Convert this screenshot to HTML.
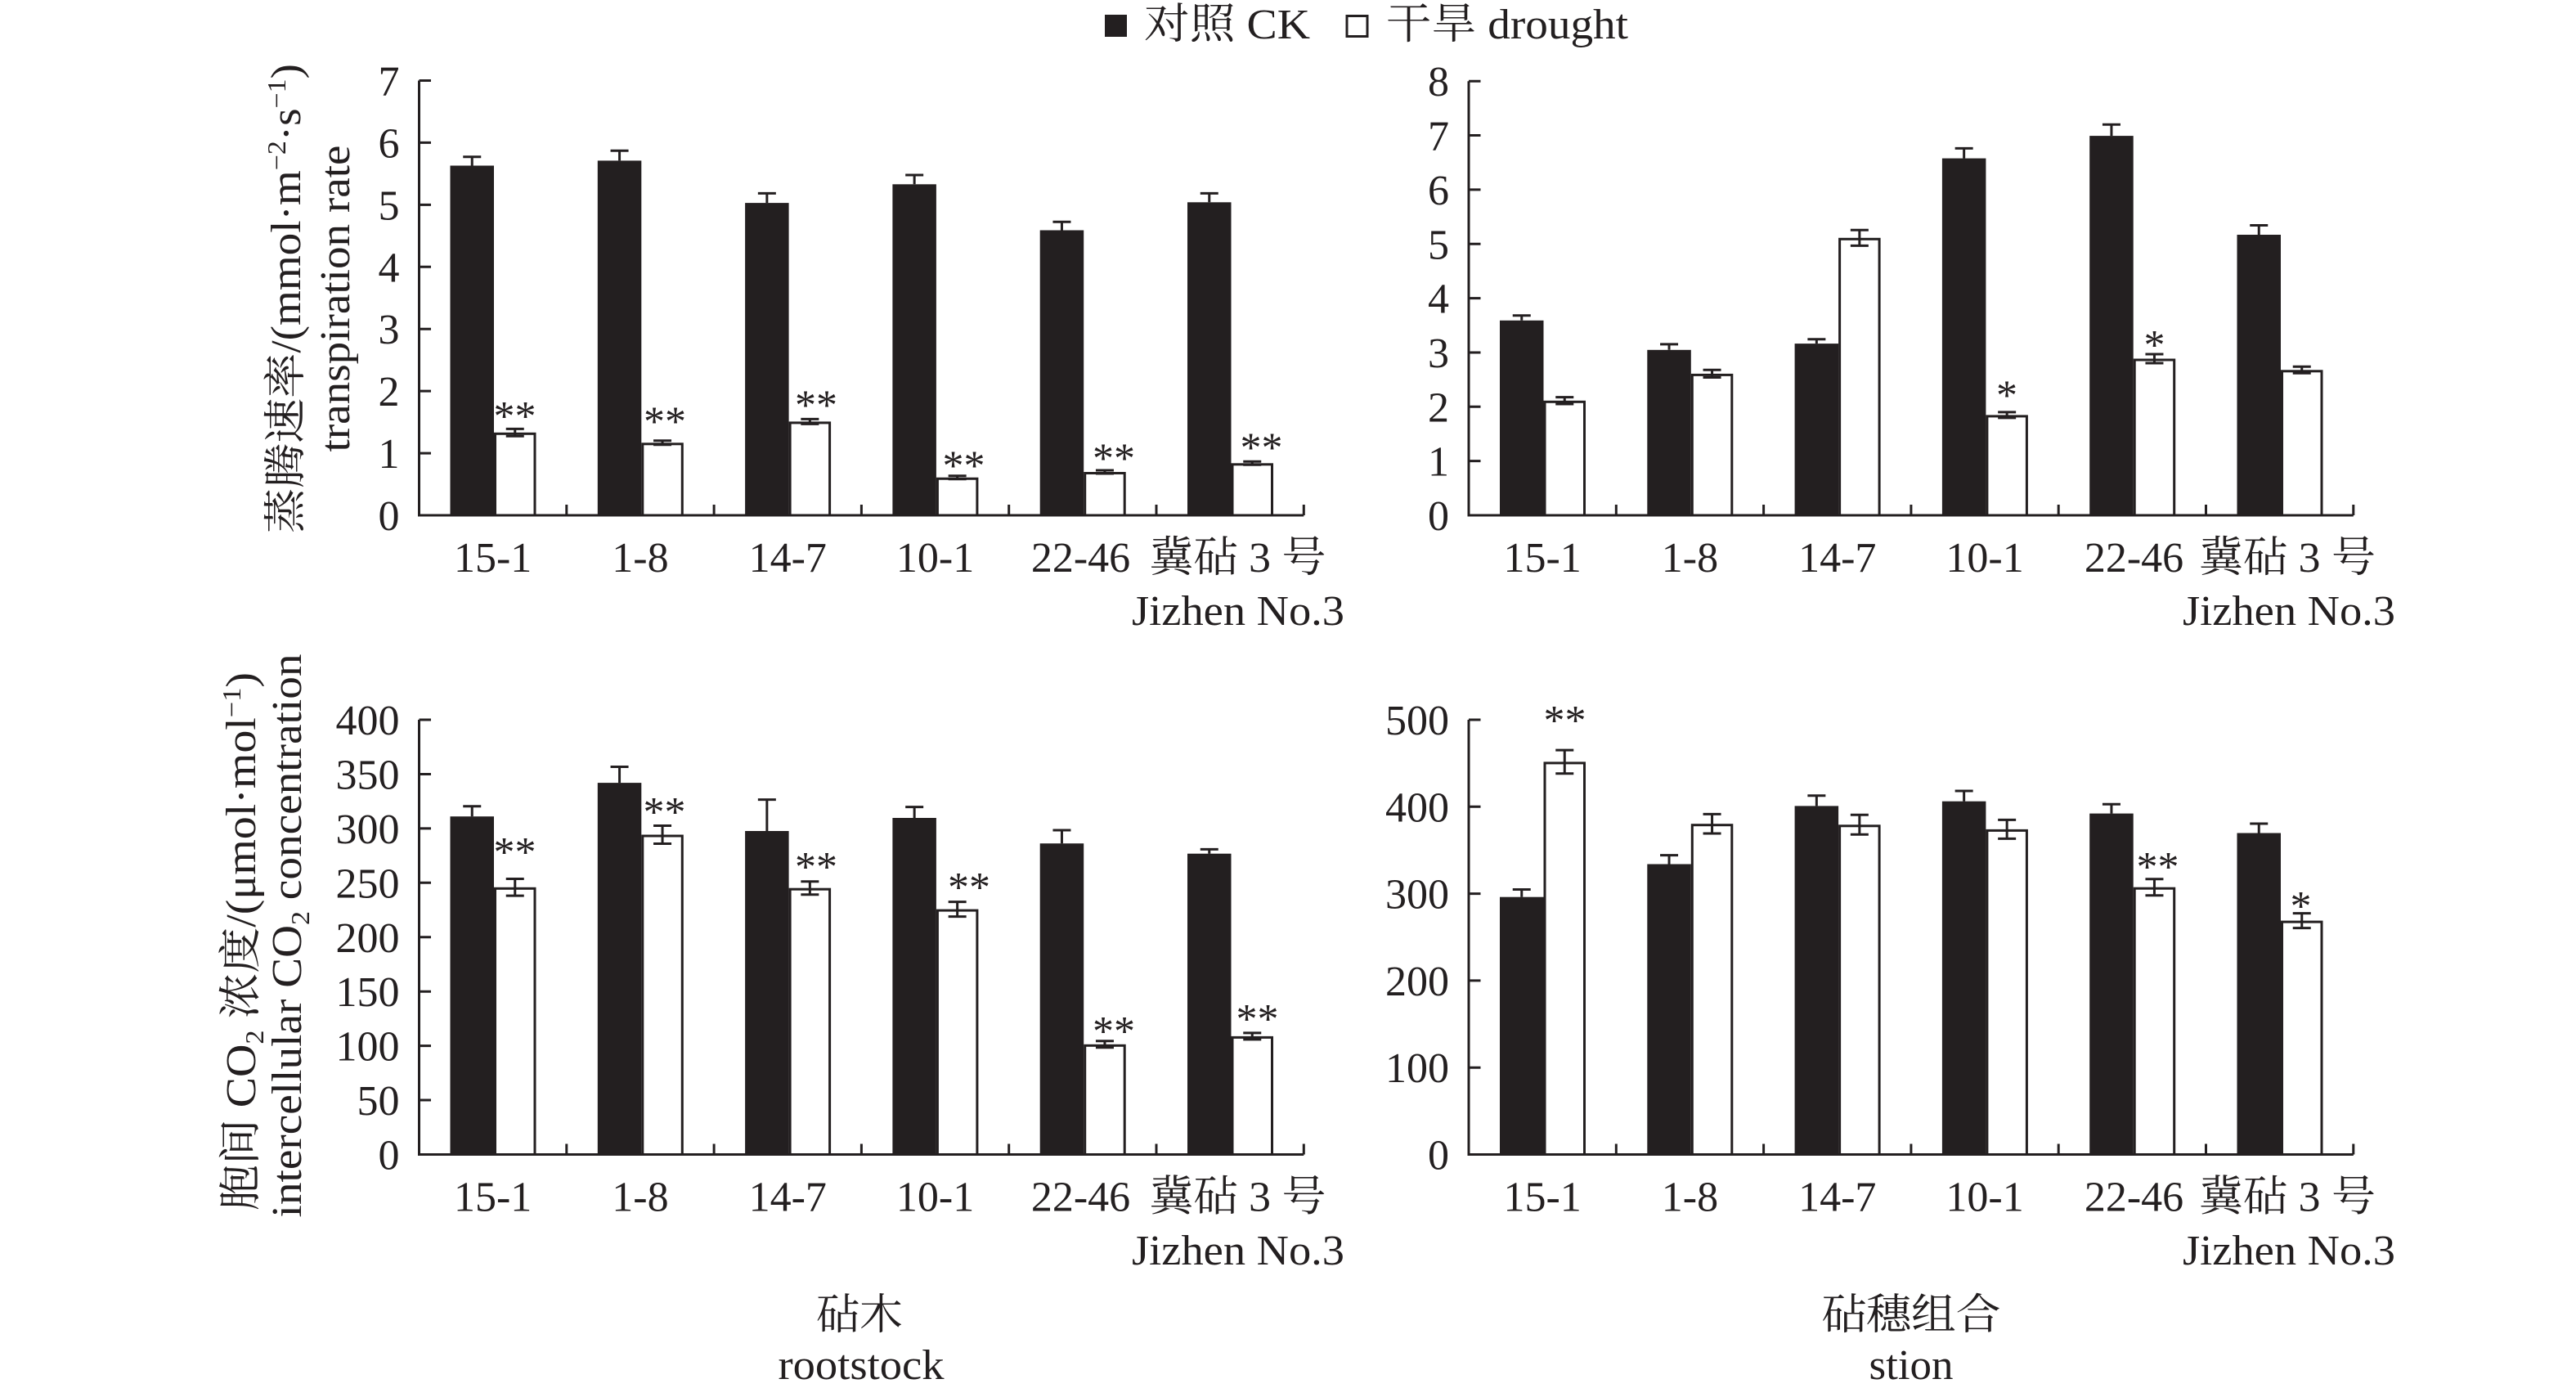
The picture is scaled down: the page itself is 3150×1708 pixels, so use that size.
<!DOCTYPE html>
<html><head><meta charset="utf-8"><style>
html,body{margin:0;padding:0;background:#fff}
svg{display:block}
text{font-family:"Liberation Serif","Noto Serif CJK SC",serif;fill:#231f20}
</style></head><body>
<svg width="3150" height="1708" viewBox="0 0 3150 1708" xmlns="http://www.w3.org/2000/svg">
<rect width="3150" height="1708" fill="#fff"/>

<!-- Legend -->
<rect x="1351" y="18" width="27" height="27" fill="#231f20"/>
<text x="1399" y="47" font-size="52" textLength="203" lengthAdjust="spacingAndGlyphs">对照 CK</text>
<rect x="1647" y="19.5" width="25" height="25" fill="#fff" stroke="#231f20" stroke-width="3"/>
<text x="1695" y="47" font-size="52" textLength="296" lengthAdjust="spacingAndGlyphs">干旱 drought</text>

<!-- ===== Black bars ===== -->
<g fill="#231f20">
<rect x="550.5" y="202.5" width="53.5" height="427.5"/>
<rect x="730.8" y="196.4" width="53.5" height="433.6"/>
<rect x="911.1" y="248.1" width="53.5" height="381.9"/>
<rect x="1091.4" y="225.3" width="53.5" height="404.7"/>
<rect x="1271.7" y="281.5" width="53.5" height="348.5"/>
<rect x="1452" y="247.3" width="53.5" height="382.7"/>
<rect x="1834" y="391.8" width="53.5" height="238.2"/>
<rect x="2014.3" y="427.8" width="53.5" height="202.2"/>
<rect x="2194.6" y="420.1" width="53.5" height="209.9"/>
<rect x="2374.9" y="193.6" width="53.5" height="436.4"/>
<rect x="2555.2" y="166.1" width="53.5" height="463.9"/>
<rect x="2735.5" y="287" width="53.5" height="343"/>
<rect x="550.5" y="998.2" width="53.5" height="413.3"/>
<rect x="730.8" y="957.1" width="53.5" height="454.4"/>
<rect x="911.1" y="1016" width="53.5" height="395.5"/>
<rect x="1091.4" y="1000" width="53.5" height="411.5"/>
<rect x="1271.7" y="1031.2" width="53.5" height="380.3"/>
<rect x="1452" y="1043.7" width="53.5" height="367.8"/>
<rect x="1834" y="1096.7" width="53.5" height="314.8"/>
<rect x="2014.3" y="1056.5" width="53.5" height="355"/>
<rect x="2194.6" y="985.4" width="53.5" height="426.1"/>
<rect x="2374.9" y="979.7" width="53.5" height="431.8"/>
<rect x="2555.2" y="994.6" width="53.5" height="416.9"/>
<rect x="2735.5" y="1018.5" width="53.5" height="393"/>
</g>

<!-- ===== White bars ===== -->
<g fill="#fff" stroke="#231f20" stroke-width="3">
<rect x="605.5" y="530.3" width="48.5" height="99.7"/>
<rect x="785.8" y="542.8" width="48.5" height="87.2"/>
<rect x="966.1" y="516.9" width="48.5" height="113.1"/>
<rect x="1146.4" y="585.25" width="48.5" height="44.75"/>
<rect x="1326.7" y="578.5" width="48.5" height="51.5"/>
<rect x="1507" y="567.8" width="48.5" height="62.2"/>
<rect x="1889" y="491.3" width="48.5" height="138.7"/>
<rect x="2069.3" y="458.4" width="48.5" height="171.6"/>
<rect x="2249.6" y="292.3" width="48.5" height="337.7"/>
<rect x="2429.9" y="508.9" width="48.5" height="121.1"/>
<rect x="2610.2" y="440" width="48.5" height="190"/>
<rect x="2790.5" y="453.8" width="48.5" height="176.2"/>
<rect x="605.5" y="1086.3" width="48.5" height="325.2"/>
<rect x="785.8" y="1022" width="48.5" height="389.5"/>
<rect x="966.1" y="1087.2" width="48.5" height="324.3"/>
<rect x="1146.4" y="1113.1" width="48.5" height="298.4"/>
<rect x="1326.7" y="1278.3" width="48.5" height="133.2"/>
<rect x="1507" y="1268.4" width="48.5" height="143.1"/>
<rect x="1889" y="932.9" width="48.5" height="478.6"/>
<rect x="2069.3" y="1008.7" width="48.5" height="402.8"/>
<rect x="2249.6" y="1009.8" width="48.5" height="401.7"/>
<rect x="2429.9" y="1015.4" width="48.5" height="396.1"/>
<rect x="2610.2" y="1086.2" width="48.5" height="325.3"/>
<rect x="2790.5" y="1127.1" width="48.5" height="284.4"/>
</g>

<!-- ===== Error bars ===== -->
<g fill="none" stroke="#231f20" stroke-width="3">
<path d="M577.25 202.5V191.8M566.25 191.8H588.25"/>
<path d="M757.55 196.4V184.2M746.55 184.2H768.55"/>
<path d="M937.85 248.1V236.4M926.85 236.4H948.85"/>
<path d="M1118.15 225.3V214M1107.15 214H1129.15"/>
<path d="M1298.45 281.5V271.3M1287.45 271.3H1309.45"/>
<path d="M1478.75 247.3V236.4M1467.75 236.4H1489.75"/>
<path d="M629.75 524.4V533.2M618.75 524.4H640.75M618.75 533.2H640.75"/>
<path d="M810.05 538.8V543.8M799.05 538.8H821.05M799.05 543.8H821.05"/>
<path d="M990.35 512.4V518.4M979.35 512.4H1001.35M979.35 518.4H1001.35"/>
<path d="M1170.65 581.75V585.75M1159.65 581.75H1181.65M1159.65 585.75H1181.65"/>
<path d="M1350.95 575V579M1339.95 575H1361.95M1339.95 579H1361.95"/>
<path d="M1531.25 564.3V568.3M1520.25 564.3H1542.25M1520.25 568.3H1542.25"/>
<path d="M1860.75 391.8V385.7M1849.75 385.7H1871.75"/>
<path d="M2041.05 427.8V420.9M2030.05 420.9H2052.05"/>
<path d="M2221.35 420.1V414.8M2210.35 414.8H2232.35"/>
<path d="M2401.65 193.6V181.4M2390.65 181.4H2412.65"/>
<path d="M2581.95 166.1V152.3M2570.95 152.3H2592.95"/>
<path d="M2762.25 287V275.5M2751.25 275.5H2773.25"/>
<path d="M1913.25 485.6V494M1902.25 485.6H1924.25M1902.25 494H1924.25"/>
<path d="M2093.55 452.3V461.5M2082.55 452.3H2104.55M2082.55 461.5H2104.55"/>
<path d="M2273.85 281.2V300.4M2262.85 281.2H2284.85M2262.85 300.4H2284.85"/>
<path d="M2454.15 503.9V510.9M2443.15 503.9H2465.15M2443.15 510.9H2465.15"/>
<path d="M2634.45 433V444M2623.45 433H2645.45M2623.45 444H2645.45"/>
<path d="M2814.75 448.3V456.3M2803.75 448.3H2825.75M2803.75 456.3H2825.75"/>
<path d="M577.25 998.2V985.7M566.25 985.7H588.25"/>
<path d="M757.55 957.1V937.5M746.55 937.5H768.55"/>
<path d="M937.85 1016V977.6M926.85 977.6H948.85"/>
<path d="M1118.15 1000V986.6M1107.15 986.6H1129.15"/>
<path d="M1298.45 1031.2V1015M1287.45 1015H1309.45"/>
<path d="M1478.75 1043.7V1038.4M1467.75 1038.4H1489.75"/>
<path d="M629.75 1074.5V1095.1M618.75 1074.5H640.75M618.75 1095.1H640.75"/>
<path d="M810.05 1009.5V1031.5M799.05 1009.5H821.05M799.05 1031.5H821.05"/>
<path d="M990.35 1077.7V1093.7M979.35 1077.7H1001.35M979.35 1093.7H1001.35"/>
<path d="M1170.65 1102.6V1120.6M1159.65 1102.6H1181.65M1159.65 1120.6H1181.65"/>
<path d="M1350.95 1272.8V1280.8M1339.95 1272.8H1361.95M1339.95 1280.8H1361.95"/>
<path d="M1531.25 1262.9V1270.9M1520.25 1262.9H1542.25M1520.25 1270.9H1542.25"/>
<path d="M1860.75 1096.7V1087.5M1849.75 1087.5H1871.75"/>
<path d="M2041.05 1056.5V1045.6M2030.05 1045.6H2052.05"/>
<path d="M2221.35 985.4V972.7M2210.35 972.7H2232.35"/>
<path d="M2401.65 979.7V967M2390.65 967H2412.65"/>
<path d="M2581.95 994.6V983.3M2570.95 983.3H2592.95"/>
<path d="M2762.25 1018.5V1007M2751.25 1007H2773.25"/>
<path d="M1913.25 917.1V945.7M1902.25 917.1H1924.25M1902.25 945.7H1924.25"/>
<path d="M2093.55 995.4V1019M2082.55 995.4H2104.55M2082.55 1019H2104.55"/>
<path d="M2273.85 996.3V1020.3M2262.85 996.3H2284.85M2262.85 1020.3H2284.85"/>
<path d="M2454.15 1002.4V1025.4M2443.15 1002.4H2465.15M2443.15 1025.4H2465.15"/>
<path d="M2634.45 1074.7V1094.7M2623.45 1074.7H2645.45M2623.45 1094.7H2645.45"/>
<path d="M2814.75 1116.6V1134.6M2803.75 1116.6H2825.75M2803.75 1134.6H2825.75"/>
</g>

<!-- ===== Axes ===== -->
<g fill="none" stroke="#231f20" stroke-width="3">
<path d="M512.5 98.5V631.5M511 630H1594.3"/>
<path d="M512.5 554.07H527M512.5 478.14H527M512.5 402.21H527M512.5 326.28H527M512.5 250.35H527M512.5 174.42H527M512.5 98.49H527"/>
<path d="M692.8 630V617M873.1 630V617M1053.4 630V617M1233.7 630V617M1414 630V617M1594.3 630V617"/>
<path d="M1796 99.2V631.5M1794.5 630H2877.8"/>
<path d="M1796 563.65H1810.5M1796 497.3H1810.5M1796 430.95H1810.5M1796 364.6H1810.5M1796 298.25H1810.5M1796 231.9H1810.5M1796 165.55H1810.5M1796 99.2H1810.5"/>
<path d="M1976.3 630V617M2156.6 630V617M2336.9 630V617M2517.2 630V617M2697.5 630V617M2877.8 630V617"/>
<path d="M512.5 880V1413M511 1411.5H1594.3"/>
<path d="M512.5 1345.06H527M512.5 1278.63H527M512.5 1212.19H527M512.5 1145.75H527M512.5 1079.31H527M512.5 1012.88H527M512.5 946.44H527M512.5 880H527"/>
<path d="M692.8 1411.5V1398.5M873.1 1411.5V1398.5M1053.4 1411.5V1398.5M1233.7 1411.5V1398.5M1414 1411.5V1398.5M1594.3 1411.5V1398.5"/>
<path d="M1796 880V1413M1794.5 1411.5H2877.8"/>
<path d="M1796 1305.2H1810.5M1796 1198.9H1810.5M1796 1092.6H1810.5M1796 986.3H1810.5M1796 880H1810.5"/>
<path d="M1976.3 1411.5V1398.5M2156.6 1411.5V1398.5M2336.9 1411.5V1398.5M2517.2 1411.5V1398.5M2697.5 1411.5V1398.5M2877.8 1411.5V1398.5"/>
</g>

<!-- ===== Y tick labels ===== -->
<g font-size="52" text-anchor="end">
<text x="488.5" y="648">0</text>
<text x="488.5" y="572.07">1</text>
<text x="488.5" y="496.14">2</text>
<text x="488.5" y="420.21">3</text>
<text x="488.5" y="344.28">4</text>
<text x="488.5" y="268.35">5</text>
<text x="488.5" y="192.42">6</text>
<text x="488.5" y="116.49">7</text>
<text x="1772" y="648">0</text>
<text x="1772" y="581.65">1</text>
<text x="1772" y="515.3">2</text>
<text x="1772" y="448.95">3</text>
<text x="1772" y="382.6">4</text>
<text x="1772" y="316.25">5</text>
<text x="1772" y="249.9">6</text>
<text x="1772" y="183.55">7</text>
<text x="1772" y="117.2">8</text>
<text x="488.5" y="1429.5">0</text>
<text x="488.5" y="1363.06">50</text>
<text x="488.5" y="1296.63">100</text>
<text x="488.5" y="1230.19">150</text>
<text x="488.5" y="1163.75">200</text>
<text x="488.5" y="1097.31">250</text>
<text x="488.5" y="1030.88">300</text>
<text x="488.5" y="964.44">350</text>
<text x="488.5" y="898">400</text>
<text x="1772" y="1429.5">0</text>
<text x="1772" y="1323.2">100</text>
<text x="1772" y="1216.9">200</text>
<text x="1772" y="1110.6">300</text>
<text x="1772" y="1004.3">400</text>
<text x="1772" y="898">500</text>
</g>

<!-- ===== Category labels ===== -->
<g font-size="52" text-anchor="middle">
<text x="602.65" y="699">15-1</text>
<text x="782.95" y="699">1-8</text>
<text x="963.25" y="699">14-7</text>
<text x="1143.55" y="699">10-1</text>
<text x="1321.5" y="699">22-46</text>
<text x="1886.15" y="699">15-1</text>
<text x="2066.45" y="699">1-8</text>
<text x="2246.75" y="699">14-7</text>
<text x="2427.05" y="699">10-1</text>
<text x="2609.5" y="699">22-46</text>
<text x="602.65" y="1480.5">15-1</text>
<text x="782.95" y="1480.5">1-8</text>
<text x="963.25" y="1480.5">14-7</text>
<text x="1143.55" y="1480.5">10-1</text>
<text x="1321.5" y="1480.5">22-46</text>
<text x="1886.15" y="1480.5">15-1</text>
<text x="2066.45" y="1480.5">1-8</text>
<text x="2246.75" y="1480.5">14-7</text>
<text x="2427.05" y="1480.5">10-1</text>
<text x="2609.5" y="1480.5">22-46</text>
</g>
<g font-size="52">
<text x="1405.5" y="699" textLength="216" lengthAdjust="spacingAndGlyphs">冀砧 3 号</text>
<text x="2689" y="699" textLength="216" lengthAdjust="spacingAndGlyphs">冀砧 3 号</text>
<text x="1405.5" y="1480.5" textLength="216" lengthAdjust="spacingAndGlyphs">冀砧 3 号</text>
<text x="2689" y="1480.5" textLength="216" lengthAdjust="spacingAndGlyphs">冀砧 3 号</text>
<text x="1384" y="764" textLength="260" lengthAdjust="spacingAndGlyphs">Jizhen No.3</text>
<text x="2669" y="764" textLength="260" lengthAdjust="spacingAndGlyphs">Jizhen No.3</text>
<text x="1384" y="1546" textLength="260" lengthAdjust="spacingAndGlyphs">Jizhen No.3</text>
<text x="2669" y="1546" textLength="260" lengthAdjust="spacingAndGlyphs">Jizhen No.3</text>
</g>

<!-- ===== Significance marks ===== -->
<g font-size="52" text-anchor="middle">
<text x="629.5" y="526">**</text>
<text x="813" y="532.5">**</text>
<text x="998" y="512.5">**</text>
<text x="1178.5" y="586.5">**</text>
<text x="1362" y="577.5">**</text>
<text x="1542.5" y="564.5">**</text>
<text x="2454" y="500.5">*</text>
<text x="2634.5" y="439">*</text>
<text x="629.5" y="1059">**</text>
<text x="812.5" y="1010">**</text>
<text x="998" y="1077">**</text>
<text x="1185" y="1102">**</text>
<text x="1362" y="1278">**</text>
<text x="1537.5" y="1263">**</text>
<text x="1913.5" y="898">**</text>
<text x="2638.5" y="1077">**</text>
<text x="2813.5" y="1125">*</text>
</g>

<!-- ===== Y axis titles ===== -->
<g font-size="52" text-anchor="middle">
<text transform="translate(367,365) rotate(-90)" textLength="574" lengthAdjust="spacingAndGlyphs">蒸腾速率/(mmol·m<tspan dy="-18" font-size="32">−2</tspan><tspan dy="18">·s</tspan><tspan dy="-18" font-size="32">−1</tspan><tspan dy="18">)</tspan></text>
<text transform="translate(427,365) rotate(-90)" textLength="375" lengthAdjust="spacingAndGlyphs">transpiration rate</text>
<text transform="translate(312,1151) rotate(-90)" textLength="658" lengthAdjust="spacingAndGlyphs">胞间 CO<tspan dy="10" font-size="32">2</tspan><tspan dy="-10"> 浓度/(μmol·mol</tspan><tspan dy="-18" font-size="32">−1</tspan><tspan dy="18">)</tspan></text>
<text transform="translate(368,1144) rotate(-90)" textLength="689" lengthAdjust="spacingAndGlyphs">intercellular CO<tspan dy="10" font-size="32">2</tspan><tspan dy="-10"> concentration</tspan></text>
</g>

<!-- ===== Bottom titles ===== -->
<g font-size="52" text-anchor="middle">
<text x="1051" y="1625" textLength="106" lengthAdjust="spacingAndGlyphs">砧木</text>
<text x="1053" y="1686" textLength="203" lengthAdjust="spacingAndGlyphs">rootstock</text>
<text x="2337" y="1625" textLength="219" lengthAdjust="spacingAndGlyphs">砧穗组合</text>
<text x="2337" y="1686" textLength="103" lengthAdjust="spacingAndGlyphs">stion</text>
</g>
</svg>
</body></html>
